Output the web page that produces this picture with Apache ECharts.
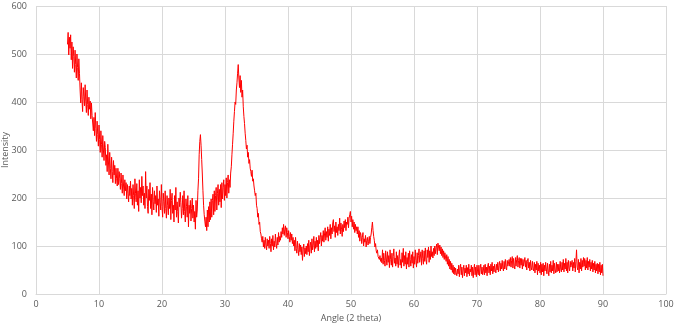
<!DOCTYPE html>
<html>
<head>
<meta charset="utf-8">
<script src="https://cdn.jsdelivr.net/npm/echarts@6/dist/echarts.min.js"></script>
<style>
  html, body { margin: 0; padding: 0; background: #fff; }
  #chart { width: 676px; height: 327px; }
</style>
</head>
<body>
<div id="chart"></div>
<script>
// scan: 5 to 90 degrees, 0.1 degree step
const startAngle = 5
const stepAngle = 0.1

// intensity, one row per 2 degrees
const intensity = [
  520, 545, 498, 535, 512, 540, 488, 525, 470, 515, 495, 462, 508, 478, 450, 500, 472, 445, 490, 460,
  425, 398, 440, 405, 380, 430, 412, 392, 436, 402, 378, 425, 395, 372, 410, 385, 402, 365, 398, 372,
  375, 340, 368, 330, 378, 345, 318, 360, 332, 308, 352, 322, 295, 340, 312, 285, 330, 300, 278, 318,
  305, 268, 290, 255, 312, 275, 248, 295, 262, 240, 285, 255, 232, 278, 248, 268, 230, 262, 240, 225,
  262, 228, 255, 240, 218, 252, 230, 210, 248, 225, 205, 238, 215, 232, 198, 228, 210, 192, 225, 205,
  235, 198, 220, 185, 228, 205, 178, 240, 210, 192, 230, 185, 215, 172, 238, 200, 222, 190, 245, 205,
  225, 185, 210, 178, 255, 200, 225, 182, 168, 218, 195, 232, 178, 208, 165, 222, 192, 175, 215, 188,
  205, 170, 225, 185, 198, 162, 215, 190, 175, 228, 182, 160, 210, 192, 168, 215, 178, 158, 205, 185,
  165, 200, 178, 218, 155, 195, 210, 168, 185, 150, 205, 175, 222, 160, 192, 172, 148, 200, 182, 212,
  190, 158, 178, 205, 165, 215, 172, 150, 198, 182, 160, 205, 140, 185, 168, 195, 152, 178, 200, 158,
  185, 150, 172, 135, 195, 160, 175, 215, 240, 290, 318, 332, 310, 280, 250, 215, 185, 165, 152, 140,
  160, 132, 175, 140, 182, 150, 192, 155, 198, 160, 195, 208, 165, 215, 172, 205, 222, 175, 210, 228,
  185, 218, 192, 228, 180, 232, 198, 222, 238, 195, 228, 205, 242, 200, 232, 248, 210, 238, 222, 252,
  265, 290, 312, 335, 360, 380, 400, 395, 425, 440, 460, 478, 450, 430, 455, 420, 445, 410, 425, 390,
  370, 355, 335, 320, 302, 310, 285, 295, 272, 280, 262, 255, 245, 258, 235, 240, 225, 215, 205, 210,
  185, 178, 160, 168, 145, 150, 130, 125, 115, 108, 120, 98, 112, 95, 118, 102, 92, 115, 100, 112,
  95, 120, 105, 88, 115, 100, 122, 92, 110, 98, 125, 105, 95, 118, 102, 128, 108, 120, 112, 130,
  118, 138, 125, 145, 122, 135, 142, 118, 138, 128, 115, 132, 120, 108, 128, 112, 125, 105, 118, 100,
  112, 90, 118, 95, 85, 110, 92, 80, 105, 88, 102, 82, 98, 70, 92, 104, 78, 96, 84, 100,
  82, 105, 88, 112, 80, 100, 108, 85, 115, 92, 102, 120, 88, 110, 95, 118, 98, 112, 90, 122,
  105, 118, 128, 100, 122, 110, 132, 108, 125, 138, 112, 130, 118, 140, 110, 135, 122, 145, 115, 138,
  125, 148, 155, 130, 142, 118, 150, 128, 140, 122, 145, 132, 158, 125, 148, 135, 120, 145, 130, 152,
  138, 155, 132, 150, 145, 160, 138, 158, 165, 172, 150, 162, 140, 155, 135, 150, 128, 145, 132, 140,
  125, 140, 118, 132, 110, 128, 122, 105, 118, 128, 100, 115, 108, 122, 98, 112, 118, 102, 110, 120,
  105, 118, 125, 138, 150, 132, 120, 112, 98, 105, 90, 85, 92, 78, 82, 72, 80, 68, 75, 65,
  92, 62, 85, 70, 58, 90, 75, 60, 88, 66, 80, 55, 92, 72, 60, 85, 56, 78, 94, 64,
  75, 58, 88, 62, 80, 55, 78, 92, 60, 72, 54, 86, 66, 95, 58, 80, 62, 88, 52, 76,
  62, 85, 56, 90, 72, 58, 82, 64, 88, 54, 78, 62, 92, 70, 56, 86, 64, 80, 94, 66,
  70, 88, 60, 92, 74, 62, 90, 68, 96, 72, 62, 92, 76, 98, 66, 90, 72, 100, 78, 88,
  75, 95, 80, 100, 84, 96, 104, 82, 106, 108, 90, 102, 84, 98, 80, 94, 76, 90, 72, 86,
  88, 68, 82, 62, 78, 58, 72, 52, 68, 50, 64, 45, 60, 42, 56, 40, 54, 44, 38, 52,
  42, 60, 36, 54, 62, 40, 56, 34, 50, 60, 38, 54, 44, 60, 36, 55, 42, 62, 38, 52,
  46, 60, 38, 56, 34, 52, 62, 40, 56, 36, 60, 46, 40, 60, 38, 54, 62, 42, 56, 40,
  48, 60, 40, 62, 44, 56, 38, 58, 64, 44, 58, 40, 62, 48, 66, 42, 58, 46, 62, 50,
  44, 62, 50, 66, 46, 60, 68, 48, 64, 52, 70, 54, 48, 68, 52, 72, 56, 50, 70, 58,
  54, 72, 58, 76, 56, 70, 78, 54, 74, 60, 52, 76, 58, 72, 80, 56, 70, 76, 54, 74,
  60, 74, 52, 72, 58, 54, 76, 56, 70, 50, 68, 74, 54, 66, 48, 70, 56, 50, 68, 54,
  48, 66, 44, 62, 50, 68, 40, 64, 48, 60, 44, 66, 40, 62, 46, 64, 38, 60, 48, 66,
  52, 42, 64, 48, 38, 62, 46, 68, 44, 60, 48, 70, 42, 64, 50, 44, 66, 46, 62, 48,
  62, 44, 68, 52, 46, 66, 50, 72, 46, 64, 52, 74, 48, 66, 44, 70, 54, 48, 68, 56,
  52, 70, 48, 66, 54, 74, 46, 68, 92, 56, 50, 72, 44, 66, 52, 74, 48, 70, 56, 76,
  58, 74, 50, 70, 54, 76, 50, 68, 56, 72, 48, 66, 52, 70, 46, 64, 50, 68, 44, 62,
  48, 64, 42, 62, 46, 66, 40, 60, 44, 62, 38
]

const xTicks = { min: 0, max: 100, interval: 10 }
const yTicks = { min: 0, max: 600, interval: 100 }

const points = intensity.map((v, i) => [+(startAngle + i * stepAngle).toFixed(1), v])

const chart = echarts.init(document.getElementById('chart'))
const labelStyle = { color: '#595959', fontSize: 9, fontFamily: 'Open Sans' }
chart.setOption({
  animation: false,
  grid: { left: 36, right: 10, top: 6, bottom: 33, outerBoundsMode: 'none' },
  xAxis: {
    type: 'value',
    min: xTicks.min,
    max: xTicks.max,
    interval: xTicks.interval,
    name: 'Angle (2 theta)',
    nameLocation: 'middle',
    nameGap: 20,
    nameTextStyle: labelStyle,
    axisLine: { lineStyle: { color: '#d9d9d9' } },
    axisTick: { show: false },
    axisLabel: Object.assign({ margin: 6 }, labelStyle),
    splitLine: { lineStyle: { color: '#d9d9d9' } }
  },
  yAxis: {
    type: 'value',
    min: yTicks.min,
    max: yTicks.max,
    interval: yTicks.interval,
    name: 'Intensity',
    nameLocation: 'middle',
    nameGap: 26,
    nameMoveOverlap: false,
    nameTextStyle: labelStyle,
    axisLine: { show: false },
    axisTick: { show: false },
    axisLabel: Object.assign({ margin: 9 }, labelStyle),
    splitLine: { lineStyle: { color: '#d9d9d9' } }
  },
  series: [{
    type: 'line',
    data: points,
    showSymbol: false,
    lineStyle: { color: '#ff0000', width: 1 }
  }]
})
</script>
</body>
</html>
